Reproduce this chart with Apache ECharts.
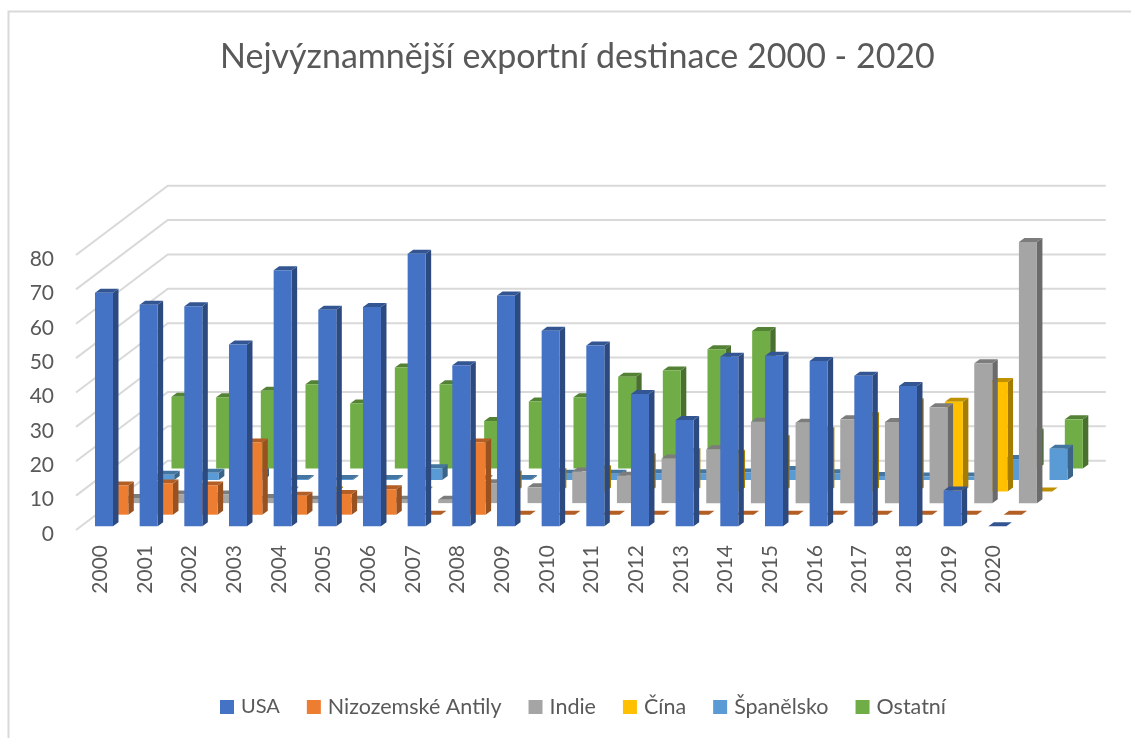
<!DOCTYPE html>
<html>
<head>
<meta charset="utf-8">
<title>Nejvýznamnější exportní destinace 2000 - 2020</title>
<script src="https://cdn.jsdelivr.net/npm/echarts@6/dist/echarts.min.js"></script>
<style>
  html, body { margin: 0; padding: 0; background: #fff; }
  #chart { width: 1131px; height: 738px; }
</style>
</head>
<body>
<div id="chart"></div>
<script>
const years = ['2000', '2001', '2002', '2003', '2004', '2005', '2006', '2007', '2008', '2009', '2010',
  '2011', '2012', '2013', '2014', '2015', '2016', '2017', '2018', '2019', '2020']
const yTicks = [0, 10, 20, 30, 40, 50, 60, 70, 80]

const usa = [67.9, 64.4, 64, 52.9, 74.5, 63, 63.8, 79.3, 46.8, 67.1, 56.9,
  52.6, 38.5, 30.9, 49.3, 49.6, 48.1, 43.8, 40.8, 10.4, 0]
const antily = [8.5, 9.1, 8.5, 21, 5.5, 6, 7.4, 0, 21, 0, 0,
  0, 0, 0, 0, 0, 0, 0, 0, 0, 0]
const indie = [1.5, 2.5, 2.5, 1.5, 1, 1, 1, 1, 5.8, 4.6, 9.2,
  8, 13, 15.7, 23.7, 23.4, 24.4, 23.6, 27.9, 40.7, 76]
const cina = [0.3, 0.3, 0.3, 0.3, 0.3, 0.3, 0.3, 0.3, 5, 5.7, 6.5,
  10, 11.5, 11, 15.3, 17.6, 22, 26, 26.1, 31.9, 0]
const spanelsko = [1.5, 2.1, 2.3, 0.3, 0.3, 0.3, 3.4, 0.3, 0.3, 1.8, 1.8,
  2, 2, 2.2, 2.9, 2, 1.2, 1, 1, 6.1, 9.1]
const ostatni = [20.9, 20.7, 22.6, 24.5, 18.9, 29.4, 24.5, 13.8, 19.5, 20.7, 26.7,
  28.5, 34.7, 40, 8, 6, 5, 5, 7, 10.5, 14.3]

const seriesNames = ['USA', 'Nizozemské Antily', 'Indie', 'Čína', 'Španělsko', 'Ostatní']
const seriesValues = [usa, antily, indie, cina, spanelsko, ostatni]
const seriesColors = ['#4472C4', '#ED7D31', '#A5A5A5', '#FFC000', '#5B9BD5', '#70AD47']
const sideColors = ['#2C4A80', '#9A5120', '#6B6B6B', '#A67C00', '#3B6588', '#49702E']
const topColors = ['#335693', '#B25E25', '#7C7C7C', '#BF9000', '#4474A0', '#548235']

// fake 3D: every series sits one depth slot further back
const slotX = 15.3
const slotY = 11.55
const barW = 18
const sideX = 5.5
const sideY = 4
const gridColor = '#d9d9d9'
const textColor = '#595959'
const fontName = 'Lato, "Noto Sans", sans-serif'

function renderWall(params, api) {
  const p = api.coord([0, api.value(0)])
  const left = api.coord([0, 0])[0] - api.size([1, 0])[0] / 2
  const right = left + api.size([1, 0])[0] * years.length
  const backY = p[1] - slotY * seriesNames.length
  return {
    type: 'polyline',
    shape: {
      points: [[left, p[1]], [left + slotX * seriesNames.length, backY], [right + slotX * seriesNames.length, backY]]
    },
    style: { fill: null, stroke: gridColor, lineWidth: 2 }
  }
}

function renderBar(slot) {
  return function (params, api) {
    const base = api.coord([api.value(0), 0])
    const head = api.coord([api.value(0), api.value(1)])
    const x0 = base[0] + slotX * (slot + 0.5) - 2 - barW / 2
    const x1 = x0 + barW
    const shiftY = -slotY * (slot + 0.5) + sideY / 2
    const y0 = base[1] + shiftY
    const y1 = head[1] + shiftY
    const children = [
      {
        type: 'polygon',
        shape: { points: [[x1, y0], [x1 + sideX, y0 - sideY], [x1 + sideX, y1 - sideY], [x1, y1]] },
        style: { fill: sideColors[slot] }
      },
      {
        type: 'polygon',
        shape: { points: [[x0, y1], [x1, y1], [x1 + sideX, y1 - sideY], [x0 + sideX, y1 - sideY]] },
        style: { fill: topColors[slot] }
      }
    ]
    if (y0 - y1 > 0) {
      children.push({
        type: 'rect',
        shape: { x: x0, y: y1, width: barW, height: y0 - y1 },
        style: { fill: seriesColors[slot] }
      })
    }
    return { type: 'group', children }
  }
}

const chart = echarts.init(document.getElementById('chart'))

const series = [{
  name: 'wall',
  type: 'custom',
  silent: true,
  clip: false,
  renderItem: renderWall,
  data: yTicks.map(v => [v]),
  encode: { y: 0 }
}]

// back series first so the nearer bars paint over them
for (let s = seriesNames.length - 1; s >= 0; s--) {
  series.push({
    name: seriesNames[s],
    type: 'custom',
    clip: false,
    itemStyle: { color: seriesColors[s] },
    renderItem: renderBar(s),
    data: seriesValues[s].map((v, i) => [i, v]),
    encode: { x: 0, y: 1 }
  })
}

chart.setOption({
  animation: false,
  backgroundColor: '#fff',
  title: {
    text: 'Nejvýznamnější exportní destinace 2000 - 2020',
    left: 215,
    top: 35,
    textStyle: { color: textColor, fontFamily: fontName, fontSize: 34, fontWeight: 400 }
  },
  legend: {
    data: seriesNames.map(n => n === 'USA' ? { name: n, textStyle: { fontSize: 20 } } : n),
    left: 215,
    top: 691,
    icon: 'rect',
    itemWidth: 14,
    itemHeight: 14,
    itemGap: 27,
    textStyle: { color: textColor, fontFamily: fontName, fontSize: 21.5, padding: [0, 0, 0, 2] }
  },
  grid: { left: 76, right: 117, top: 255, bottom: 208 },
  xAxis: {
    type: 'category',
    data: years,
    axisLine: { show: false },
    axisTick: { show: false },
    axisLabel: { rotate: 90, margin: 15, interval: 0, color: textColor, fontFamily: fontName, fontSize: 21, verticalAlign: 'top', lineHeight: 4 }
  },
  yAxis: {
    type: 'value',
    min: 0,
    max: 80,
    interval: 10,
    axisLine: { show: false },
    axisTick: { show: false },
    splitLine: { show: false },
    axisLabel: { margin: 22, color: textColor, fontFamily: fontName, fontSize: 21, verticalAlign: 'top', lineHeight: 8 }
  },
  graphic: [{
    type: 'polyline',
    shape: { points: [[8.5, 738], [8.5, 11.5], [1131, 11.5]] },
    style: { fill: null, stroke: gridColor, lineWidth: 2 }
  }],
  series
})

window.addEventListener('resize', () => chart.resize())
</script>
</body>
</html>
